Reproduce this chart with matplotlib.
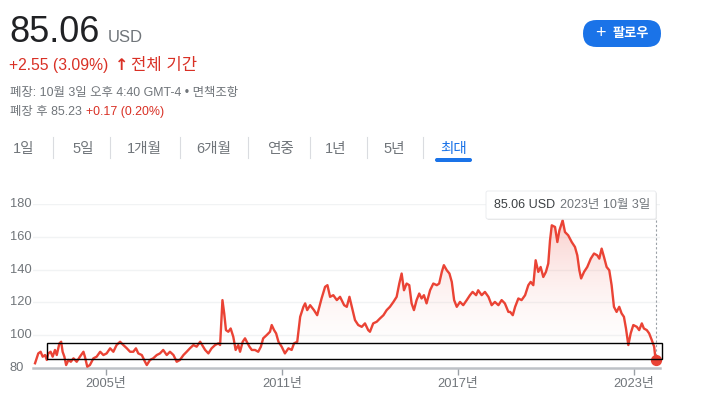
import matplotlib
matplotlib.use("Agg")
import matplotlib.pyplot as plt
import numpy as np
from matplotlib.patches import FancyBboxPatch, Rectangle, Polygon

plt.rcParams['font.family'] = ['Liberation Sans', 'Noto Sans CJK KR', 'DejaVu Sans']

# ---- data (decimal year, price USD)
years = [2002.58, 2002.69, 2002.77, 2002.84, 2002.92, 2002.98, 2003.03, 2003.11, 2003.18, 2003.26,
         2003.32, 2003.41, 2003.47, 2003.52, 2003.58, 2003.64, 2003.72, 2003.80, 2003.89, 2004.00,
         2004.11, 2004.23, 2004.28, 2004.36, 2004.45, 2004.57, 2004.68, 2004.80, 2004.91, 2005.02,
         2005.14, 2005.25, 2005.36, 2005.48, 2005.59, 2005.71, 2005.82, 2005.93, 2006.02, 2006.10,
         2006.22, 2006.33, 2006.39, 2006.50, 2006.61, 2006.73, 2006.84, 2006.95, 2007.07, 2007.18,
         2007.30, 2007.41, 2007.52, 2007.64, 2007.75, 2007.86, 2007.98, 2008.09, 2008.21, 2008.38,
         2008.49, 2008.60, 2008.72, 2008.83, 2008.89, 2008.97, 2009.03, 2009.09, 2009.17, 2009.25,
         2009.34, 2009.42, 2009.51, 2009.57, 2009.66, 2009.74, 2009.80, 2009.89, 2009.97, 2010.08,
         2010.19, 2010.28, 2010.36, 2010.48, 2010.59, 2010.65, 2010.73, 2010.80, 2010.88, 2010.99,
         2011.10, 2011.22, 2011.33, 2011.41, 2011.52, 2011.62, 2011.73, 2011.79, 2011.86, 2011.96,
         2012.09, 2012.20, 2012.35, 2012.47, 2012.55, 2012.64, 2012.75, 2012.87, 2012.98, 2013.12,
         2013.21, 2013.30, 2013.38, 2013.49, 2013.60, 2013.72, 2013.83, 2013.94, 2014.00, 2014.11,
         2014.23, 2014.34, 2014.46, 2014.57, 2014.68, 2014.80, 2014.91, 2015.00, 2015.08, 2015.16,
         2015.25, 2015.34, 2015.42, 2015.50, 2015.59, 2015.68, 2015.76, 2015.84, 2015.93, 2016.05,
         2016.16, 2016.28, 2016.36, 2016.45, 2016.52, 2016.62, 2016.71, 2016.79, 2016.87, 2016.96,
         2017.07, 2017.18, 2017.30, 2017.41, 2017.50, 2017.62, 2017.69, 2017.81, 2017.92, 2018.04,
         2018.15, 2018.26, 2018.38, 2018.49, 2018.60, 2018.72, 2018.78, 2018.87, 2018.95, 2019.06,
         2019.17, 2019.29, 2019.40, 2019.48, 2019.57, 2019.65, 2019.74, 2019.82, 2019.91, 2020.00,
         2020.08, 2020.14, 2020.20, 2020.31, 2020.39, 2020.46, 2020.57, 2020.65, 2020.76, 2020.88,
         2020.99, 2021.07, 2021.14, 2021.20, 2021.30, 2021.41, 2021.53, 2021.64, 2021.75, 2021.82,
         2021.90, 2021.98, 2022.07, 2022.16, 2022.24, 2022.32, 2022.41, 2022.50, 2022.58, 2022.66,
         2022.73, 2022.81, 2022.89, 2022.98, 2023.10, 2023.18, 2023.27, 2023.34, 2023.44, 2023.52,
         2023.61, 2023.69, 2023.74]
prices = [82.9, 88.9, 89.9, 86.9, 87.9, 84.9, 88.9, 89.9, 86.9, 91.0,
          87.9, 95.0, 96.0, 89.9, 86.9, 81.8, 84.9, 83.8, 85.9, 83.8,
          86.9, 89.9, 86.9, 80.8, 81.8, 85.9, 86.9, 89.9, 87.9, 88.9,
          92.0, 89.9, 94.0, 96.0, 94.0, 92.0, 89.9, 89.9, 92.0, 88.9,
          87.9, 83.8, 81.8, 84.9, 85.9, 87.9, 88.9, 91.0, 87.9, 89.9,
          87.9, 83.8, 84.9, 87.9, 89.9, 92.0, 94.0, 93.0, 96.0, 91.0,
          88.9, 92.0, 94.0, 95.0, 94.0, 121.4, 113.3, 103.1, 102.1, 104.1,
          99.0, 91.0, 94.0, 89.9, 96.0, 98.1, 96.0, 93.0, 91.0, 91.0,
          89.9, 93.0, 98.1, 100.1, 102.1, 106.2, 103.1, 101.1, 96.0, 93.0,
          88.9, 92.0, 91.0, 95.0, 96.0, 111.2, 117.3, 119.4, 115.3, 118.3,
          115.3, 112.2, 122.4, 129.5, 130.5, 123.4, 124.4, 121.4, 123.4, 118.3,
          117.3, 123.4, 117.3, 109.2, 106.2, 105.1, 107.2, 103.1, 102.1, 107.2,
          108.2, 110.2, 112.2, 115.3, 117.3, 120.3, 123.4, 131.5, 137.6, 127.4,
          131.5, 130.5, 119.4, 115.3, 121.4, 125.4, 122.4, 124.4, 119.4, 127.4,
          131.5, 130.5, 131.5, 138.6, 142.7, 139.6, 137.6, 132.5, 121.4, 117.3,
          120.3, 118.3, 121.4, 124.4, 126.4, 124.4, 127.4, 124.4, 126.4, 123.4,
          118.3, 120.3, 118.3, 121.4, 119.4, 114.2, 114.2, 112.2, 117.3, 122.4,
          121.4, 124.4, 130.5, 132.5, 130.5, 145.7, 138.6, 141.6, 135.5, 138.6,
          143.7, 157.9, 167.0, 166.0, 156.8, 163.9, 170.0, 162.9, 160.9, 156.8,
          153.8, 148.7, 139.6, 134.6, 138.6, 141.6, 146.7, 149.8, 148.7, 146.7,
          152.8, 147.7, 141.6, 139.6, 130.5, 117.3, 114.2, 117.3, 113.3, 111.2,
          104.1, 94.0, 101.1, 106.2, 105.1, 103.1, 107.2, 104.1, 103.1, 101.1,
          97.0, 93.0, 85.06]
xticks = [2005, 2011, 2017, 2023]
xlabels = ['2005년', '2011년', '2017년', '2023년']
yticks = [80, 100, 120, 140, 160, 180]
tabs = ['1일', '5일', '1개월', '6개월', '연중', '1년', '5년', '최대']
tab_x = [13, 72, 127, 196, 267, 325, 383, 440]
sep_x = [53, 110, 180, 248, 310, 367, 423]

RED = '#ea4335'
TXTRED = '#d93025'
GRAY = '#70757a'
DARK = '#202124'
BLUE = '#1a73e8'

W, H = 701, 400
def fx(x):
    return x / W
def fy(y):
    return 1 - y / H

fig = plt.figure(figsize=(7.01, 4.0), dpi=100)

# ---- header
fig.text(fx(9), fy(42), '85.06', fontsize=26, color=DARK, va='baseline')
fig.text(fx(108), fy(42), 'USD', fontsize=12, color=GRAY, va='baseline')
fig.text(fx(9), fy(70), '+2.55 (3.09%)', fontsize=11.3, color=TXTRED, va='baseline')
fig.text(fx(115), fy(70), '↑', fontsize=11.5, color=TXTRED, va='baseline', fontweight='bold',
         family=['DejaVu Sans'])
fig.text(fx(131), fy(70), '전체 기간', fontsize=12, color=TXTRED, va='baseline')
fig.text(fx(10), fy(96), '폐장: 10월 3일 오후 4:40 GMT-4 • 면책조항', fontsize=8.95, color=GRAY, va='baseline')
fig.text(fx(10), fy(115), '폐장 후 85.23', fontsize=8.9, color=GRAY, va='baseline')
fig.text(fx(86), fy(115), '+0.17 (0.20%)', fontsize=8.9, color=TXTRED, va='baseline')

# follow button
fig.patches.append(FancyBboxPatch((583, H - 47), 78, 27, boxstyle='round,pad=0,rounding_size=13.5',
                                  transform=None, facecolor=BLUE, edgecolor='none'))
fig.text(fx(600), fy(33.5), '+', fontsize=13, color='white', va='center', ha='center')
fig.text(fx(613), fy(33.5), '팔로우', fontsize=9.5, color='white', va='center', fontweight='bold')

# tabs
for t, x in zip(tabs, tab_x):
    fig.text(fx(x), fy(153), t, fontsize=10.5, color=BLUE if t == '최대' else GRAY, va='baseline')
for x in sep_x:
    fig.add_artist(plt.Line2D([fx(x), fx(x)], [fy(137), fy(158)], color='#dadce0', lw=0.8))
fig.patches.append(FancyBboxPatch((435, H - 162), 37, 4, boxstyle='round,pad=0,rounding_size=2',
                                  transform=None, facecolor=BLUE, edgecolor='none'))

# ---- chart
ax = fig.add_axes([fx(33), fy(368), fx(660) - fx(33), (368 - 204) / H])
ax.set_xlim(2002.51, 2023.89)
ax.set_ylim(80, 180)

x = np.array(years)
y = np.array(prices)

# gradient fill under the line
grad = np.linspace(0, 1, 256).reshape(-1, 1)
cmap = matplotlib.colors.LinearSegmentedColormap.from_list('g', [(1, 1, 1, 0), (0.92, 0.26, 0.21, 0.28)])
img = ax.imshow(grad, extent=[x[0], x[-1], 80, 175], origin='lower', aspect='auto', cmap=cmap,
                vmin=0, vmax=1, zorder=1)
poly = Polygon(np.column_stack([np.r_[x, x[-1], x[0]], np.r_[y, 80, 80]]), closed=True,
               facecolor='none', edgecolor='none', transform=ax.transData)
ax.add_patch(poly)
img.set_clip_path(poly)

ax.plot(x, y, color=RED, lw=1.7, zorder=3, solid_joinstyle='round')
ax.plot([x[-1], x[-1]], [y[-1], 170.9], color='#9aa0a6', lw=0.8, ls=(0, (2, 2)), zorder=2, clip_on=False)
ax.scatter([x[-1]], [y[-1]], s=50, color=RED, zorder=4, clip_on=False)

# highlight rectangle
ax.add_patch(Rectangle((2003.0, 85.5), 2023.95 - 2003.0, 95.2 - 85.5, fill=False,
                       edgecolor='black', lw=1.0, zorder=5, clip_on=False))

for v in yticks[1:]:
    ax.axhline(v, color='#f1f3f4', lw=1.0, zorder=0)
for v in yticks:
    ax.text(-0.0367, v, str(v), transform=ax.get_yaxis_transform(), fontsize=9.3, color=GRAY,
            ha='left', va='center')

for s in ['top', 'right', 'left']:
    ax.spines[s].set_visible(False)
ax.spines['bottom'].set_color('#bdc1c6')
ax.spines['bottom'].set_linewidth(1.8)
ax.set_yticks([])
ax.set_xticks(xticks)
ax.set_xticklabels(xlabels, fontsize=9.3, color=GRAY)
ax.tick_params(axis='x', length=5, width=1, color='#9aa0a6', pad=2)

# tooltip
fig.patches.append(FancyBboxPatch((487, H - 220), 170, 28, boxstyle='round,pad=0,rounding_size=2',
                                  transform=None, facecolor='#d0d0d0', edgecolor='none', alpha=0.5))
fig.patches.append(FancyBboxPatch((486, H - 219), 170, 28, boxstyle='round,pad=0,rounding_size=2',
                                  transform=None, facecolor='white', edgecolor='#e8eaed', lw=0.6))
fig.text(fx(494), fy(205), '85.06 USD', fontsize=9.0, color='#3c4043', va='center')
fig.text(fx(560), fy(205), '2023년 10월 3일', fontsize=9.0, color=GRAY, va='center')

fig.savefig('out.png', dpi=100)
